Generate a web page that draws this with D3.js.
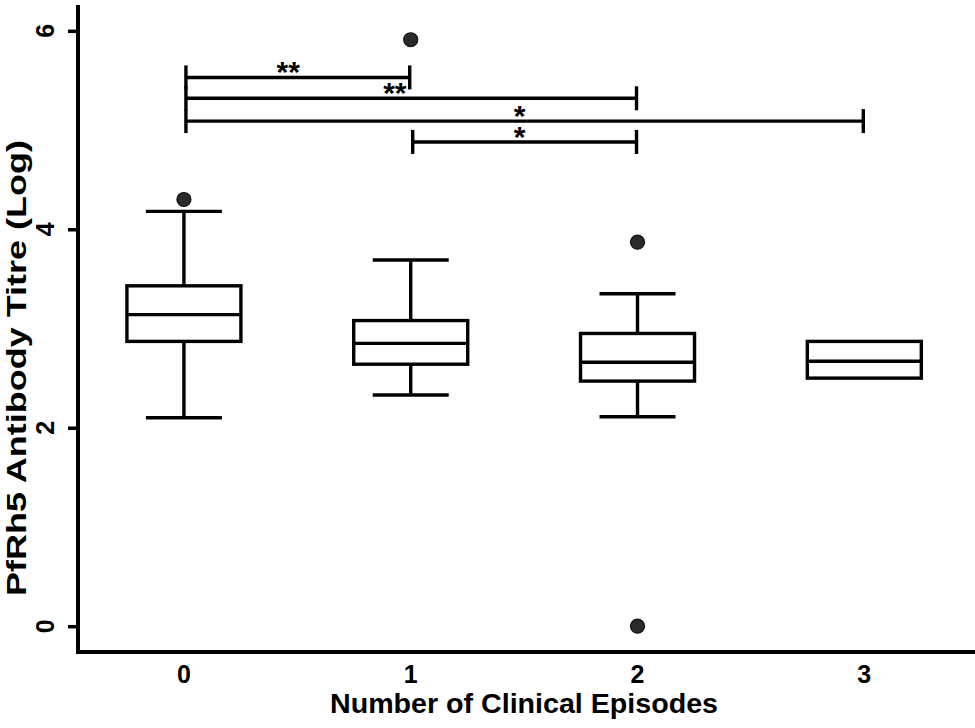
<!DOCTYPE html>
<html>
<head>
<meta charset="utf-8">
<script src="https://cdn.jsdelivr.net/npm/d3@7"></script>
<style>
  body { margin: 0; background: #fff; }
  text { font-family: "Liberation Sans", Arial, Helvetica, sans-serif; font-weight: bold; fill: #000; }
</style>
</head>
<body>
<div class="chartDiv"></div>
<script>
// groups on the x axis
var categories = [0, 1, 2, 3];
var tickLabelsX = ["0", "1", "2", "3"];

// box statistics (log titre)
var whiskerLow  = [2.10, 2.33, 2.11, null];
var q1          = [2.87, 2.64, 2.47, 2.50];
var median      = [3.14, 2.85, 2.66, 2.67];
var q3          = [3.43, 3.08, 2.95, 2.87];
var whiskerHigh = [4.18, 3.69, 3.35, null];
var outliers    = [[4.30], [5.91], [3.87, 0.0], []];

var yTicks = [0, 2, 4, 6];

// significance brackets
var bracketFrom  = [0, 0, 0, 1];
var bracketTo    = [1, 2, 3, 2];
var bracketY     = [5.53, 5.32, 5.09, 4.88];
var bracketLabel = ["**", "**", "*", "*"];
var bracketLabelAt = [0.46, 0.93, 1.48, 1.48];

drawChart();

function drawChart()
{
	var width = 975, height = 728;
	var plotLeft = 78, plotRight = 975, plotTop = 5, plotBottom = 652;

	var svg = d3.select(".chartDiv").append("svg")
		.attr("width", width)
		.attr("height", height);

	var x = d3.scaleLinear().domain([-0.467, 3.488]).range([plotLeft, plotRight]);
	var y = d3.scaleLinear().domain([-0.26, 6.26]).range([plotBottom, plotTop]);

	var boxHalf = 57, capHalf = 38, lw = 3.4;

	var boxes = categories.map(function (c, i) {
		return { c: c, lo: whiskerLow[i], q1: q1[i], med: median[i], q3: q3[i], hi: whiskerHigh[i], out: outliers[i] };
	});

	var g = svg.selectAll(".box")
		.data(boxes)
		.enter().append("g")
		.attr("class", "box")
		.attr("stroke", "#000")
		.attr("stroke-width", lw)
		.attr("fill", "none");

	// whiskers, box, median, outliers
	g.each(function (d) {
		var s = d3.select(this);
		var cx = x(d.c);
		if (d.hi != null) {
			s.append("line").attr("x1", cx).attr("x2", cx).attr("y1", y(d.q3)).attr("y2", y(d.hi));
			s.append("line").attr("x1", cx - capHalf).attr("x2", cx + capHalf).attr("y1", y(d.hi)).attr("y2", y(d.hi));
		}
		if (d.lo != null) {
			s.append("line").attr("x1", cx).attr("x2", cx).attr("y1", y(d.q1)).attr("y2", y(d.lo));
			s.append("line").attr("x1", cx - capHalf).attr("x2", cx + capHalf).attr("y1", y(d.lo)).attr("y2", y(d.lo));
		}
		s.append("rect")
			.attr("x", cx - boxHalf)
			.attr("y", y(d.q3))
			.attr("width", boxHalf * 2)
			.attr("height", y(d.q1) - y(d.q3))
			.attr("fill", "#fff");
		s.append("line").attr("x1", cx - boxHalf).attr("x2", cx + boxHalf).attr("y1", y(d.med)).attr("y2", y(d.med));
		s.selectAll("circle")
			.data(d.out)
			.enter().append("circle")
			.attr("cx", cx)
			.attr("cy", function (v) { return y(v); })
			.attr("r", 7)
			.attr("fill", "#2a2a2a")
			.attr("stroke", "#111")
			.attr("stroke-width", 1.2);
	});

	// significance brackets
	var tick = 12;
	var br = svg.append("g").attr("stroke", "#000").attr("stroke-width", lw);
	bracketY.forEach(function (v, i) {
		var x1 = x(bracketFrom[i]) + 2, x2 = x(bracketTo[i]) - 1, yy = y(v);
		br.append("line").attr("x1", x1).attr("x2", x2).attr("y1", yy).attr("y2", yy);
		br.append("line").attr("x1", x1).attr("x2", x1).attr("y1", yy - tick).attr("y2", yy + tick);
		br.append("line").attr("x1", x2).attr("x2", x2).attr("y1", yy - tick).attr("y2", yy + tick);
		svg.append("text")
			.attr("x", x(bracketLabelAt[i]))
			.attr("y", yy + 5)
			.attr("text-anchor", "middle")
			.style("font-size", "30px")
			.text(bracketLabel[i]);
	});

	// y axis ticks (labels drawn rotated, as in the figure)
	var yAxis = svg.append("g")
		.attr("transform", "translate(" + plotLeft + ",0)")
		.call(d3.axisLeft(y).tickValues(yTicks).tickSize(10).tickSizeOuter(0));
	yAxis.select(".domain").remove();
	yAxis.selectAll(".tick line").attr("stroke", "#000").attr("stroke-width", 3.5);
	yAxis.selectAll(".tick text").remove();
	yTicks.forEach(function (t) {
		svg.append("text")
			.attr("transform", "translate(54," + y(t) + ") rotate(-90)")
			.attr("text-anchor", "middle")
			.style("font-size", "25px")
			.text(String(t));
	});

	// axis lines
	svg.append("path")
		.attr("d", "M" + plotLeft + "," + plotTop + "V" + plotBottom + "H" + plotRight)
		.attr("fill", "none")
		.attr("stroke", "#000")
		.attr("stroke-width", 4);

	categories.forEach(function (c, i) {
		svg.append("text")
			.attr("x", x(c))
			.attr("y", 683)
			.attr("text-anchor", "middle")
			.style("font-size", "25px")
			.text(tickLabelsX[i]);
	});

	svg.append("text")
		.attr("x", 524)
		.attr("y", 713)
		.attr("text-anchor", "middle")
		.attr("textLength", 388)
		.attr("lengthAdjust", "spacingAndGlyphs")
		.style("font-size", "28px")
		.text("Number of Clinical Episodes");

	svg.append("text")
		.attr("transform", "translate(26,368) rotate(-90)")
		.attr("text-anchor", "middle")
		.attr("textLength", 456)
		.attr("lengthAdjust", "spacingAndGlyphs")
		.style("font-size", "27px")
		.text("PfRh5 Antibody Titre (Log)");
}
</script>
</body>
</html>
